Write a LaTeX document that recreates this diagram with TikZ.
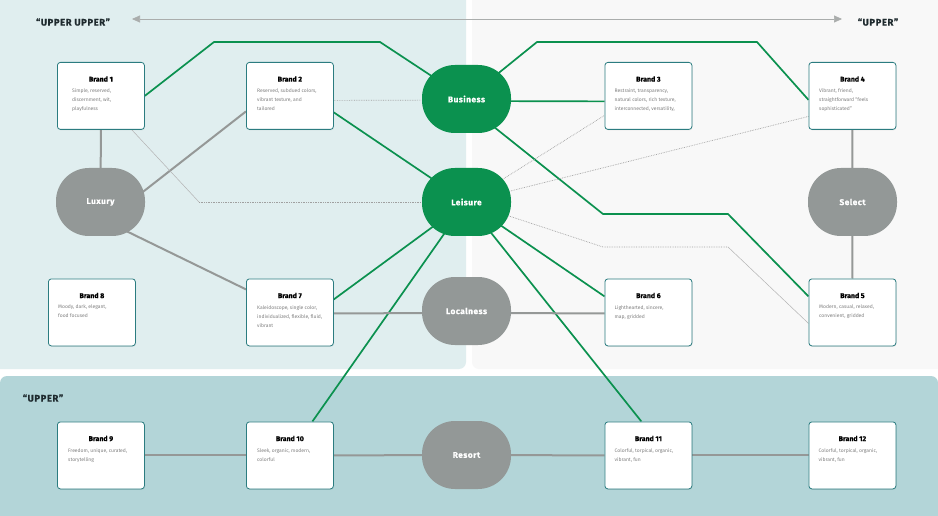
\documentclass[tikz,border=0pt]{standalone}
\usepackage{fontspec}
\setmainfont{Fira Sans}
\newfontfamily\spacedfont[LetterSpace=6,BoldFeatures={FakeBold=0.6}]{Fira Sans}
\newfontfamily\heavyfont[BoldFeatures={FakeBold=0.6}]{Fira Sans}
\usetikzlibrary{arrows.meta,calc,shadows}
\definecolor{panelA}{HTML}{E0EEEF}
\definecolor{panelB}{HTML}{F8F8F8}
\definecolor{panelC}{HTML}{B3D5D8}
\definecolor{brandgreen}{HTML}{0B914F}
\definecolor{ovalgrey}{HTML}{939897}
\definecolor{linegrey}{HTML}{959897}
\definecolor{dotgrey}{HTML}{A0A0A0}
\definecolor{boxborder}{HTML}{2B7C80}
\definecolor{desctext}{HTML}{808080}
\definecolor{headtext}{HTML}{1E2A2E}
\pgfdeclarelayer{bg}
\pgfdeclarelayer{edges}
\pgfsetlayers{bg,edges,main}
\tikzset{
  brandbox/.style={draw=boxborder, line width=0.8pt, fill=white, rounded corners=3pt,
    minimum width=87pt, minimum height=67pt, inner sep=0pt,
    drop shadow={opacity=0.12, shadow xshift=0.6pt, shadow yshift=-1pt}},
  brandtitle/.style={font=\heavyfont\bfseries\fontsize{7}{8}\selectfont, text=black, inner sep=0pt},
  branddesc/.style={font=\fontsize{5}{9}\selectfont, text=desctext, align=left, inner sep=0pt},
  oval/.style={rounded corners=33pt, minimum width=89pt, minimum height=68pt, inner sep=0pt,
    text=white, font=\spacedfont\bfseries\fontsize{8.3}{10}\selectfont},
  greyoval/.style={oval, fill=ovalgrey},
  greenoval/.style={oval, fill=brandgreen},
  greenline/.style={draw=brandgreen, line width=1.7pt},
  greyline/.style={draw=linegrey, line width=2pt},
  dotline/.style={draw=dotgrey, line width=0.7pt, densely dotted},
  thinline/.style={draw=dotgrey!80, line width=0.5pt},
  header/.style={font=\spacedfont\bfseries\fontsize{9.5}{11}\selectfont, text=headtext, inner sep=0pt},
}
\newcommand\mkbrand[6]{%
  \node[brandbox, anchor=north west] (#1) at (#2,#3) {};
  \node[brandtitle] (#1t) at ($(#1.north)+(0,17)$) {#4};
  \node[branddesc, anchor=north west] (#1d) at ($(#1.north west)+(#5,26.5)$) {#6};
}
\begin{document}
\begin{tikzpicture}[x=1pt, y=-1pt]
\useasboundingbox (0,0) rectangle (938,516);
\begin{pgfonlayer}{bg}
  \fill[white] (0,0) rectangle (938,516);
  \fill[panelA, rounded corners=7pt] (-10,-10) rectangle (466,369);
  \fill[panelB, rounded corners=7pt] (472,-10) rectangle (948,369);
  \fill[panelC, rounded corners=7pt] (0,376) rectangle (938,526);
\end{pgfonlayer}

% header
\coordinate (arrL) at (132,19);
\coordinate (arrR) at (842,19);
\draw[draw=linegrey!80, line width=0.7pt, {Triangle[length=8pt,width=7pt]}-{Triangle[length=8pt,width=7pt]}] (arrL) -- (arrR);
\node[header] (hUU) at (73,22) {“UPPER UPPER”};
\node[header] (hU1) at (878,22) {“UPPER”};
\node[header] (hU2) at (43,398) {“UPPER”};

% brands
\mkbrand{b1}{57}{62}{Brand 1}{15}{Simple, reserved,\\discernment, wit,\\playfulness}
\mkbrand{b2}{246}{62}{Brand 2}{11}{Reserved, subdued colors,\\vibrant texture, and\\tailored}
\mkbrand{b3}{604.5}{62}{Brand 3}{10}{Restraint, transparency,\\natural colors, rich texture,\\interconnected, versatility,}
\mkbrand{b4}{808.5}{62}{Brand 4}{10.5}{Vibrant, friend,\\straightforward “feels\\sophisticated”}
\mkbrand{b8}{48}{278.5}{Brand 8}{10}{Moody, dark, elegant,\\food focused}
\mkbrand{b7}{246}{278.5}{Brand 7}{11}{Kaleidoscope, single color,\\individualized, flexible, fluid,\\vibrant}
\mkbrand{b6}{604.5}{278.5}{Brand 6}{10}{Lighthearted, sincere,\\map, gridded}
\mkbrand{b5}{808.5}{278.5}{Brand 5}{10.5}{Modern, casual, relaxed,\\convenient, gridded}
\mkbrand{b9}{57}{421.5}{Brand 9}{11}{Freedom, unique, curated,\\storytelling}
\mkbrand{b10}{246}{421.5}{Brand 10}{11}{Sleek, organic, modern,\\colorful}
\mkbrand{b11}{604.5}{421.5}{Brand 11}{10}{Colorful, torpical, organic,\\vibrant, fun}
\mkbrand{b12}{808.5}{421.5}{Brand 12}{10}{Colorful, torpical, organic,\\vibrant, fun}

% ovals
\node[greyoval] (lux) at (100.5,202) {Luxury};
\node[greenoval] (bus) at (466.5,99) {Business};
\node[greenoval] (lei) at (466.5,202) {Leisure};
\node[greyoval] (loc) at (466.5,311) {Localness};
\node[greyoval] (res) at (466.5,455) {Resort};
\node[greyoval] (sel) at (852.5,202) {Select};

% bend points
\coordinate (p1) at (214,42);
\coordinate (p2) at (380,42);
\coordinate (p3) at (537,42);
\coordinate (p4) at (757,42);
\coordinate (p5) at (603,214);
\coordinate (p6) at (728,214);
\coordinate (q1) at (199,202);
\coordinate (q2) at (603,247);
\coordinate (q3) at (728,247);

\begin{pgfonlayer}{edges}
  % green
  \draw[greenline] (b1.east) -- (p1) -- (p2) -- (bus.center);
  \draw[greenline] (bus.center) -- (p3) -- (p4) -- ($(b4.west)+(0,4)$);
  \draw[greenline] ($(bus.center)+(0,2)$) -- ($(b3.west)+(0,5.5)$);
  \draw[greenline] ($(b2.east)+(0,16.5)$) -- (lei.center);
  \draw[greenline] ($(bus.center)+(0,6)$) -- (p5) -- (p6) -- ($(b5.west)+(0,-16)$);
  \draw[greenline] (lei.center) -- ($(b7.east)+(0,-13)$);
  \draw[greenline] (lei.center) -- ($(b10.north)+(22.5,0)$);
  \draw[greenline] (lei.center) -- ($(b6.west)+(0,-16)$);
  \draw[greenline] (lei.center) -- ($(b11.north)+(-7,0)$);
  % grey solid
  \draw[greyline] (b1.south) -- (lux.center);
  \draw[greyline] ($(lux.center)+(0,23)$) -- ($(b2.west)+(0,15.5)$);
  \draw[greyline] ($(lux.center)+(0,16.5)$) -- ($(b7.west)+(0,-23)$);
  \draw[greyline] ($(b7.east)+(0,1)$) -- ($(loc.center)+(0,2)$);
  \draw[greyline] ($(loc.center)+(0,2)$) -- ($(b6.west)+(0,1)$);
  \draw[greyline] (b4.south) -- (sel.center);
  \draw[greyline] (sel.center) -- (b5.north);
  \draw[greyline] (b9.east) -- (b10.west);
  \draw[greyline] (b10.east) -- (res.center);
  \draw[greyline] (res.center) -- (b11.west);
  \draw[greyline] (b11.east) -- (b12.west);
  % dotted
  \draw[dotline] ($(b2.east)+(0,4.5)$) -- ($(bus.center)+(0,1)$);
  \draw[thinline] ($(b1.south east)+(-13,0)$) -- (q1);
  \draw[dotline] (q1) -- (lei.center);
  \draw[dotline] (lei.center) -- ($(b3.west)+(0,19.5)$);
  \draw[dotline] (lei.center) -- ($(b4.west)+(0,20.5)$);
  \draw[dotline] (lei.center) -- (q2) -- (q3);
  \draw[thinline] (q3) -- ($(b5.west)+(0,11)$);
\end{pgfonlayer}
\end{tikzpicture}
\end{document}
